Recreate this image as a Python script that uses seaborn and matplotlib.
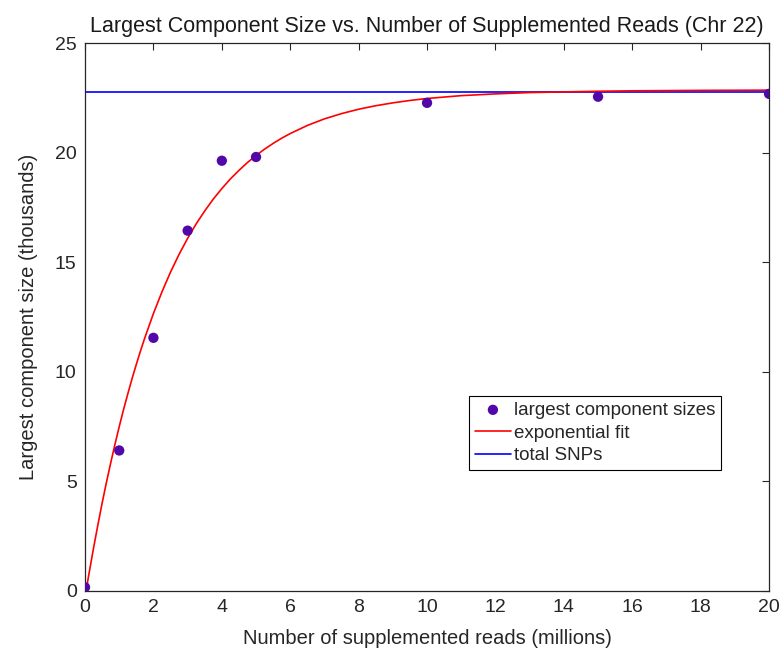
import matplotlib
matplotlib.use("Agg")
import matplotlib.pyplot as plt
import seaborn as sns

# data
reads = [0, 1, 2, 3, 4, 5, 10, 15, 20]
comp_size = [0.17, 6.41, 11.55, 16.44, 19.63, 19.80, 22.27, 22.55, 22.68]

# points
fit_x = [0.03, 0.1, 0.25, 0.375, 0.5, 0.625, 0.75, 0.875, 1, 1.125, 1.25,
         1.375, 1.5, 1.625, 1.75, 2, 2.25, 2.5, 2.75, 3, 3.25, 3.5, 3.75, 4,
         4.25, 4.5, 4.75, 5, 5.25, 5.5, 5.75, 6, 6.5, 7, 7.5, 8, 8.5, 9, 9.5,
         10, 11, 12, 13, 14, 15, 16, 18, 20]
fit_y = [0.0, 0.65, 1.97, 3.01, 4.01, 4.95, 5.84, 6.69, 7.50, 8.27, 8.99,
         9.69, 10.34, 10.97, 11.56, 12.66, 13.65, 14.55, 15.36, 16.09, 16.75,
         17.34, 17.88, 18.36, 18.80, 19.19, 19.55, 19.87, 20.16, 20.42, 20.66,
         20.87, 21.24, 21.54, 21.78, 21.98, 22.14, 22.27, 22.38, 22.47, 22.60,
         22.68, 22.74, 22.77, 22.80, 22.82, 22.84, 22.85]

snp_x = [0, 20]
snp_y = [22.78, 22.78]

sns.set_style("white")
plt.rcParams['font.family'] = ['Liberation Sans', 'DejaVu Sans']

fig = plt.figure(figsize=(7.83, 6.52), dpi=100)
ax = fig.add_axes([0.1086, 0.0936, 0.8736, 0.8404])

sns.scatterplot(x=reads, y=comp_size, ax=ax, color='#5208a8', s=55,
                edgecolor='none', label='largest component sizes', zorder=4)
sns.lineplot(x=fit_x, y=fit_y, ax=ax, color='#ff0000', linewidth=1.2,
             label='exponential fit', zorder=3)
sns.lineplot(x=snp_x, y=snp_y, ax=ax, color='#0000ff', linewidth=1.2,
             label='total SNPs', zorder=2)

ax.set_xlim(0, 20)
ax.set_ylim(0, 25)
ax.set_xticks(range(0, 21, 2))
ax.set_yticks(range(0, 26, 5))

dark = '#262626'
for s in ax.spines.values():
    s.set_visible(True)
    s.set_color(dark)
    s.set_linewidth(0.9)
ax.tick_params(direction='in', length=5, width=0.8, top=True, right=True,
               colors=dark, labelsize=14, pad=6)

ax.set_title('Largest Component Size vs. Number of Supplemented Reads (Chr 22)',
             fontsize=15.5, color='#1a1a1a', pad=8)
ax.set_xlabel('Number of supplemented reads (millions)', fontsize=14.5,
              color=dark, labelpad=9)
ax.set_ylabel('Largest component size (thousands)', fontsize=14.5,
              color=dark, labelpad=12)

leg = ax.legend(loc='lower left', bbox_to_anchor=(0.562, 0.221), fontsize=13.5,
                frameon=True, fancybox=False, framealpha=1, edgecolor='black',
                borderpad=0.3, handlelength=1.9, handletextpad=0.2,
                labelspacing=0.3, borderaxespad=0)
leg.get_frame().set_linewidth(0.8)

fig.savefig('out.png', dpi=100)
